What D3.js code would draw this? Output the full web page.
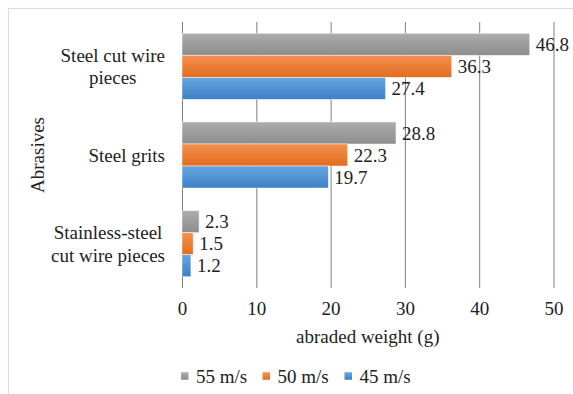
<!DOCTYPE html>
<html>
<head>
<meta charset="utf-8">
<script src="https://cdn.jsdelivr.net/npm/d3@7"></script>
<style>
  html, body { margin: 0; padding: 0; background: #fff; }
  svg { display: block; }
  svg text { font-family: "Liberation Serif", "Times New Roman", serif; }
</style>
</head>
<body>
<svg id="chart" width="573" height="394"></svg>
<script>
// Abraded weight by abrasive type and blast velocity
const categories = [
  ["Steel cut wire", "pieces"],
  ["Steel grits"],
  ["Stainless-steel", "cut wire pieces"]
];
const seriesNames = ["55 m/s", "50 m/s", "45 m/s"];
const values55 = [46.8, 28.8, 2.3];
const values50 = [36.3, 22.3, 1.5];
const values45 = [27.4, 19.7, 1.2];
const xTicks = [0, 10, 20, 30, 40, 50];

const seriesValues = [values55, values50, values45];
const colors = [
  { top: "#adadad", bottom: "#8d8d8d" },
  { top: "#f4914f", bottom: "#e26c1d" },
  { top: "#66a5df", bottom: "#3c81c6" }
];
const FONT = "'Liberation Serif', 'Times New Roman', serif";
const FS = 19;
const INK = "#222";

const svg = d3.select("#chart");

// Outer chart frame
svg.append("rect")
  .attr("x", 8.5).attr("y", 8.5)
  .attr("width", 600).attr("height", 400)
  .attr("fill", "#fff")
  .attr("stroke", "#d9dde6").attr("stroke-width", 1.2);

const defs = svg.append("defs");
colors.forEach((c, i) => {
  const g = defs.append("linearGradient")
    .attr("id", "grad" + i)
    .attr("x1", 0).attr("y1", 0).attr("x2", 0).attr("y2", 1);
  g.append("stop").attr("offset", "0%").attr("stop-color", c.top);
  g.append("stop").attr("offset", "100%").attr("stop-color", c.bottom);
});

const plot = { left: 182, right: 553.5, top: 22, bottom: 288 };

const x = d3.scaleLinear().domain([0, 50]).range([plot.left, plot.right]);
const y = d3.scaleBand()
  .domain(d3.range(categories.length))
  .range([plot.top, plot.bottom])
  .paddingInner(0.255).paddingOuter(0.1275);
const ySub = d3.scaleBand()
  .domain(d3.range(seriesNames.length))
  .range([0, y.bandwidth()]);

function styleText(sel) {
  return sel.style("font-family", FONT).style("font-size", FS + "px").attr("fill", INK);
}

// Vertical gridlines and tick labels
const xAxis = d3.axisBottom(x).tickValues(xTicks).tickSize(plot.bottom - plot.top).tickPadding(14);
const axisG = svg.append("g")
  .attr("transform", `translate(0,${plot.top})`)
  .call(xAxis);
axisG.select(".domain").remove();
axisG.selectAll(".tick line")
  .attr("stroke", "#808080").attr("stroke-width", 1);
axisG.selectAll(".tick text").call(styleText);

// Bars and value labels
const groups = svg.append("g").selectAll("g")
  .data(categories)
  .join("g")
  .attr("transform", (d, i) => `translate(0,${y(i)})`);

groups.each(function(d, ci) {
  const g = d3.select(this);
  seriesValues.forEach((vals, si) => {
    const v = vals[ci];
    g.append("rect")
      .attr("x", x(0))
      .attr("y", ySub(si))
      .attr("width", x(v) - x(0))
      .attr("height", ySub.bandwidth())
      .attr("fill", `url(#grad${si})`)
      .attr("stroke", "rgba(255,255,255,0.6)")
      .attr("stroke-width", 0.8);
    g.append("text")
      .attr("x", x(v) + 6)
      .attr("y", ySub(si) + ySub.bandwidth() / 2)
      .attr("dy", "0.35em")
      .call(styleText)
      .text(v.toFixed(1));
  });
});

// Category labels: each block right-aligned to the axis, lines centred within the block
const labelRight = 165;
svg.append("g").selectAll("text")
  .data(categories)
  .join("text")
  .attr("text-anchor", "middle")
  .call(styleText)
  .each(function(lines, i) {
    const t = d3.select(this);
    const cy = y(i) + y.bandwidth() / 2;
    const lh = 22.5;
    const start = cy - (lines.length - 1) * lh / 2;
    const spans = lines.map((ln, k) => t.append("tspan")
      .attr("y", start + k * lh)
      .attr("dy", "0.35em")
      .text(ln));
    const w = d3.max(spans, s => s.node().getComputedTextLength());
    spans.forEach(s => s.attr("x", labelRight - w / 2));
  });

// Axis titles
svg.append("text")
  .attr("transform", `translate(37,${(plot.top + plot.bottom) / 2}) rotate(-90)`)
  .attr("text-anchor", "middle")
  .attr("dy", "0.35em")
  .call(styleText)
  .text("Abrasives");

svg.append("text")
  .attr("x", (plot.left + plot.right) / 2)
  .attr("y", 343)
  .attr("text-anchor", "middle")
  .call(styleText)
  .text("abraded weight (g)");

// Legend
const legendX = [181, 262.5, 344.5];
const legend = svg.append("g").selectAll("g")
  .data(seriesNames)
  .join("g")
  .attr("transform", (d, i) => `translate(${legendX[i]},376)`);
legend.append("rect")
  .attr("x", 0).attr("y", -3.75)
  .attr("width", 7.5).attr("height", 7.5)
  .attr("fill", (d, i) => `url(#grad${i})`);
legend.append("text")
  .attr("x", 15)
  .attr("y", 7)
  .call(styleText)
  .text(d => d);
</script>
</body>
</html>
